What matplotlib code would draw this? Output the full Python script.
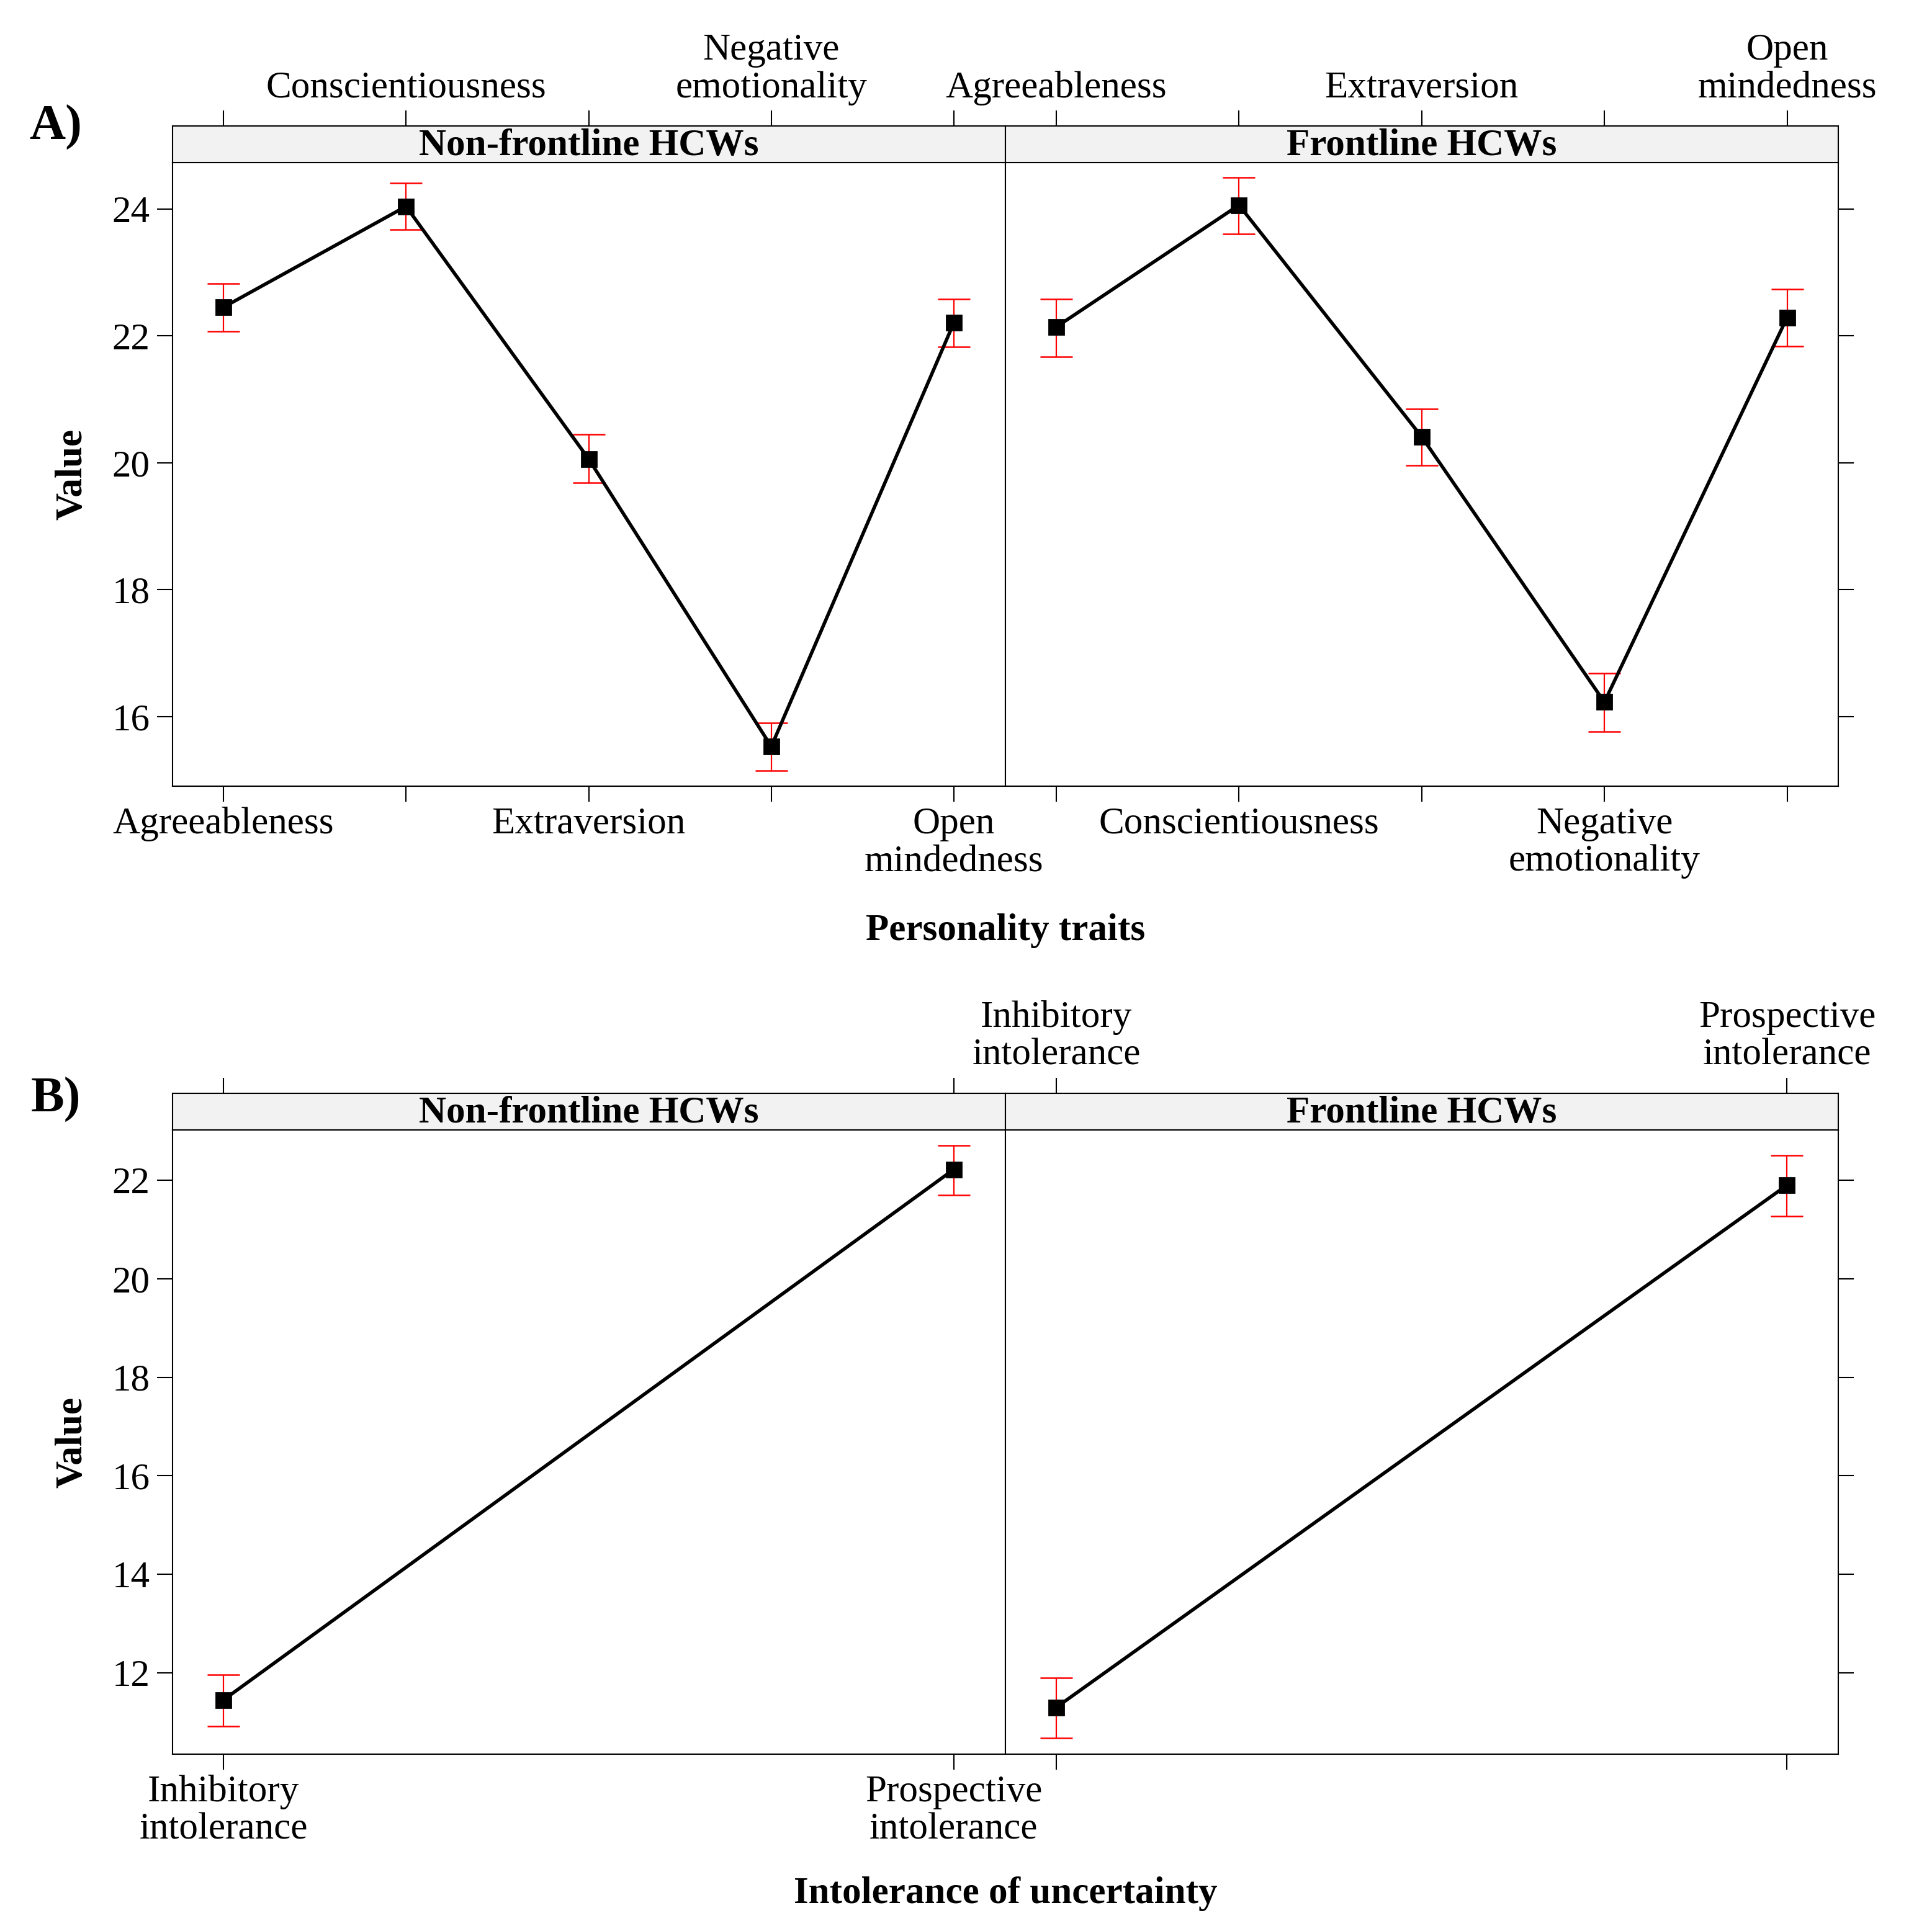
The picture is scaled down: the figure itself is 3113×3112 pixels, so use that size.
import matplotlib
matplotlib.use("Agg")
import matplotlib.pyplot as plt
import numpy as np

plt.rcParams['font.family'] = ['Liberation Serif', 'DejaVu Serif']
plt.rcParams['font.size'] = 22

# ---- data ----
groups = ["Non-frontline HCWs", "Frontline HCWs"]

traits = ["Agreeableness", "Conscientiousness", "Extraversion",
          "Negative\nemotionality", "Open\nmindedness"]
nonfront_traits_mean = [22.45, 24.04, 20.06, 15.53, 22.21]
nonfront_traits_lo = [22.07, 23.67, 19.69, 15.15, 21.83]
nonfront_traits_hi = [22.82, 24.41, 20.45, 15.90, 22.58]
front_traits_mean = [22.14, 24.06, 20.41, 16.23, 22.29]
front_traits_lo = [21.67, 23.61, 19.96, 15.77, 21.84]
front_traits_hi = [22.58, 24.50, 20.85, 16.68, 22.74]
traits_yticks = [16, 18, 20, 22, 24]

iu = ["Inhibitory\nintolerance", "Prospective\nintolerance"]
nonfront_iu_mean = [11.45, 22.22]
nonfront_iu_lo = [10.92, 21.70]
nonfront_iu_hi = [11.96, 22.70]
front_iu_mean = [11.30, 21.90]
front_iu_lo = [10.68, 21.27]
front_iu_hi = [11.90, 22.50]
iu_yticks = [12, 14, 16, 18, 20, 22]

W, H = 3113, 3112
fig = plt.figure(figsize=(W / 200, H / 200), dpi=200)

LW = 0.75
TICKLEN = 9
LSP = 1.12


def frac_box(x0, y0, x1, y1):
    # pixel box (top-left origin) -> figure fraction rect
    return [x0 / W, 1 - y1 / H, (x1 - x0) / W, (y1 - y0) / H]


def draw_row(cats, series, yticks, ylim, xpad, top, strip_top, bottom):
    n = len(cats)
    x = np.arange(1, n + 1)
    xlim = (1 - xpad, n + xpad)
    lefts = [(277.5, 1619.5), (1619.5, 2962)]
    for i, (g, (mean, lo, hi)) in enumerate(zip(groups, series)):
        x0, x1 = lefts[i]
        ax = fig.add_axes(frac_box(x0, top, x1, bottom))
        sax = fig.add_axes(frac_box(x0, strip_top, x1, top))
        mean = np.array(mean)
        err = [mean - np.array(lo), np.array(hi) - mean]
        ax.errorbar(x, mean, yerr=err, fmt='none', ecolor='red',
                    elinewidth=0.8, capsize=9.2, capthick=0.9, zorder=2)
        ax.plot(x, mean, color='black', lw=2.0, marker='s', ms=8.6,
                zorder=3)
        ax.set_xlim(*xlim)
        ax.set_ylim(*ylim)
        for a in (ax, sax):
            for s in a.spines.values():
                s.set_linewidth(LW)
        # alternating labels, lattice style
        if n > 2:
            bot_lab = [c if (j % 2 == 0) == (i == 0) else '' for j, c in enumerate(cats)]
            top_lab = [c if (j % 2 == 1) == (i == 0) else '' for j, c in enumerate(cats)]
        else:
            bot_lab = cats if i == 0 else [''] * n
            top_lab = [''] * n if i == 0 else cats
        ax.set_xticks(x)
        ax.set_xticklabels(bot_lab, linespacing=LSP)
        ax.tick_params(axis='x', direction='out', length=TICKLEN, width=LW, pad=3)
        ax.set_yticks(yticks)
        if i == 0:
            ax.tick_params(axis='y', left=True, right=False, labelleft=True,
                           direction='out', length=TICKLEN, width=LW, pad=4)
        else:
            ax.tick_params(axis='y', left=False, right=True, labelleft=False,
                           labelright=False, direction='out', length=TICKLEN, width=LW)
        sax.set_facecolor('#F2F2F2')
        sax.set_xlim(*xlim)
        sax.set_yticks([])
        sax.set_xticks(x)
        sax.xaxis.tick_top()
        sax.set_xticklabels(top_lab, linespacing=LSP)
        sax.tick_params(axis='x', direction='out', length=TICKLEN, width=LW, pad=3)
        sax.text(0.5, 0.45, g, transform=sax.transAxes, ha='center', va='center',
                 fontweight='bold')


draw_row(traits,
         [(nonfront_traits_mean, nonfront_traits_lo, nonfront_traits_hi),
          (front_traits_mean, front_traits_lo, front_traits_hi)],
         traits_yticks, (14.905, 24.73), 0.280, 262, 203, 1267)
draw_row(iu,
         [(nonfront_iu_mean, nonfront_iu_lo, nonfront_iu_hi),
          (front_iu_mean, front_iu_lo, front_iu_hi)],
         iu_yticks, (10.35, 23.02), 0.0701, 1821, 1762, 2827)

fig.text(116 / W, 1 - 764 / H, "Value", rotation=90, ha='center', va='center',
         fontweight='bold')
fig.text(116 / W, 1 - 2324 / H, "Value", rotation=90, ha='center', va='center',
         fontweight='bold')
fig.text(1620 / W, 1 - 1500 / H, "Personality traits", ha='center', va='center',
         fontweight='bold')
fig.text(1620 / W, 1 - 3052 / H, "Intolerance of uncertainty", ha='center',
         va='center', fontweight='bold')
fig.text(90 / W, 1 - 205 / H, "A)", ha='center', va='center', fontweight='bold',
         fontsize=29)
fig.text(90 / W, 1 - 1772 / H, "B)", ha='center', va='center', fontweight='bold',
         fontsize=29)

plt.savefig("out.png", dpi=200)
